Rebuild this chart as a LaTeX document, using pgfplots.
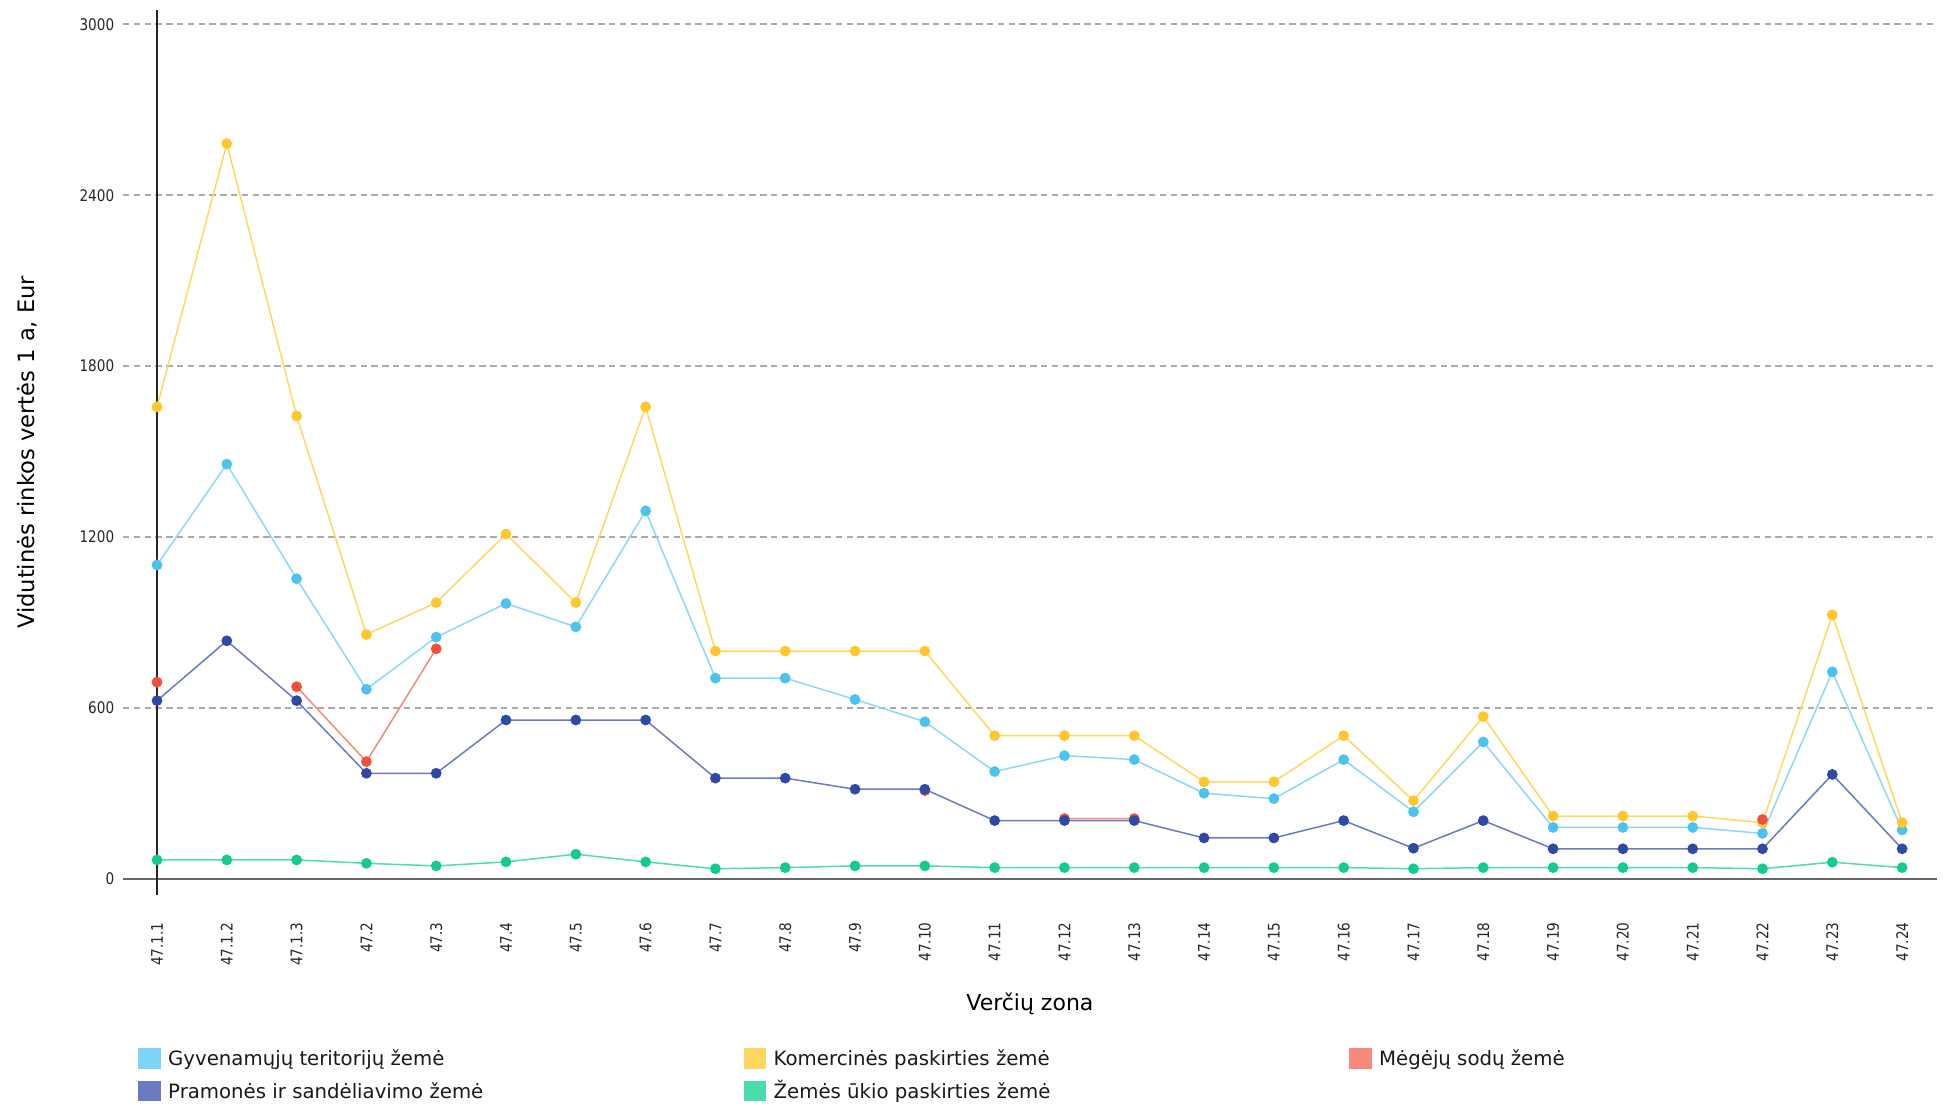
\documentclass[border=0pt]{standalone}
\usepackage{fontspec}
\setmainfont{DejaVu Sans}
\newfontfamily\tickfont[FakeStretch=0.85]{DejaVu Sans}
\usepackage{pgfplots}
\usepackage{pgfplotstable}
\pgfplotsset{compat=1.18}

\definecolor{cGyvL}{HTML}{8AD8F5}
\definecolor{cGyvM}{HTML}{4CC3EF}
\definecolor{cKomL}{HTML}{FFD75E}
\definecolor{cKomM}{HTML}{FFC72C}
\definecolor{cMegL}{HTML}{F48A7A}
\definecolor{cMegM}{HTML}{F2503B}
\definecolor{cPraL}{HTML}{6A7BC2}
\definecolor{cPraM}{HTML}{2E4AA6}
\definecolor{cZemL}{HTML}{50DCAE}
\definecolor{cZemM}{HTML}{12CC8C}
\definecolor{lGyv}{HTML}{7DD4F6}
\definecolor{lKom}{HTML}{FFD65E}
\definecolor{lMeg}{HTML}{F9897A}
\definecolor{lPra}{HTML}{6B7BC3}
\definecolor{lZem}{HTML}{4CDCAA}
\definecolor{gridc}{HTML}{ABABAB}

\pgfplotstableread{
x  gyv   kom   meg   pra  zem
0  1102  1657  691   626  67
1  1456  2581  nan   836  67
2  1054  1625  675   626  67
3  666   858   412   371  55
4  849   970   808   371  46
5  967   1211  nan   558  60
6  885   970   nan   558  87
7  1292  1657  nan   558  60
8  705   800   nan   354  36
9  705   800   nan   354  40
10 630   800   nan   315  46
11 552   800   310   315  46
12 377   503   nan   205  40
13 433   503   212   205  40
14 419   503   212   205  40
15 301   341   nan   144  40
16 282   341   nan   144  40
17 419   503   nan   205  40
18 236   275   nan   108  36
19 481   570   nan   205  40
20 181   221   nan   106  40
21 181   221   nan   106  40
22 181   221   nan   106  40
23 160   198   209   106  36
24 727   927   nan   367  59
25 172   198   nan   106  40
}\data

\begin{document}
\begin{tikzpicture}
\begin{axis}[
  scale only axis, width=890pt, height=434.5pt,
  xmin=0, xmax=25.5, ymin=0, ymax=3050,
  clip=false,
  axis line style={draw=none},
  tick style={draw=none},
  xtick={0,...,25},
  xticklabels={47.1.1,47.1.2,47.1.3,47.2,47.3,47.4,47.5,47.6,47.7,47.8,47.9,47.10,47.11,47.12,47.13,47.14,47.15,47.16,47.17,47.18,47.19,47.20,47.21,47.22,47.23,47.24},
  ytick={0,600,1200,1800,2400,3000},
  /pgf/number format/assume math mode=true,
  /pgf/number format/1000 sep={},
  xticklabel style={font=\tickfont\fontsize{8}{9}\selectfont, text=black!85, yshift=-21.5pt, rotate=90, anchor=east, inner sep=0pt},
  yticklabel style={font=\tickfont\fontsize{8}{9}\selectfont, text=black!85, xshift=-21.2pt, anchor=east, inner sep=0pt},
  xlabel={Verčių zona},
  xlabel style={font=\fontsize{11}{13}\selectfont, at={(axis description cs:0.4904,-0.1438)}, anchor=center},
  ylabel={Vidutinės rinkos vertės 1 a, Eur},
  ylabel style={font=\fontsize{11.3}{13}\selectfont, at={(axis description cs:-0.073,0.491)}, anchor=center},
  legend columns=3,
  legend cell align=left,
  legend style={at={(axis description cs:-0.0105,-0.1948)}, anchor=north west, draw=none, fill=none,
    inner sep=0pt, outer sep=0pt, row sep=5.6pt, font=\fontsize{9.86}{11}\selectfont,
    nodes={inner sep=0pt, anchor=base west, text=black!90},
    /tikz/every odd column/.append style={column sep=3.7pt},
    /tikz/every even column/.append style={column sep=7.8pt}},
  unbounded coords=jump,
]
\pgfplotsinvokeforeach{600,1200,1800,2400,3000}{
  \draw[gridc, line width=0.9pt, dash pattern=on 3.2pt off 2.2pt] (axis cs:-0.487,#1) -- (axis cs:25.5,#1);
}
\draw[black!60, line width=1pt] (axis cs:-0.487,0) -- (axis cs:25.5,0);
\draw[black!85, line width=0.8pt] (axis cs:0,3050) -- (axis cs:0,-56);

\addplot[color=cGyvL, line width=0.75pt, mark=*, mark size=2.3pt, mark options={fill=cGyvM, draw=cGyvM},
  legend image code/.code={\fill[lGyv] (0pt,-1.1pt) rectangle (10.5pt,8.3pt);}] table[x=x,y=gyv]{\data};
\addlegendentry{\makebox[280pt][l]{Gyvenamųjų teritorijų žemė}}
\addplot[color=cKomL, line width=0.75pt, mark=*, mark size=2.3pt, mark options={fill=cKomM, draw=cKomM},
  legend image code/.code={\fill[lKom] (0pt,-1.1pt) rectangle (10.5pt,8.3pt);}] table[x=x,y=kom]{\data};
\addlegendentry{\makebox[280pt][l]{Komercinės paskirties žemė}}
\addplot[color=cMegL, line width=0.75pt, mark=*, mark size=2.3pt, mark options={fill=cMegM, draw=cMegM},
  legend image code/.code={\fill[lMeg] (0pt,-1.1pt) rectangle (10.5pt,8.3pt);}] table[x=x,y=meg]{\data};
\addlegendentry{\makebox[280pt][l]{Mėgėjų sodų žemė}}
\addplot[color=cPraL, line width=0.75pt, mark=*, mark size=2.3pt, mark options={fill=cPraM, draw=cPraM},
  legend image code/.code={\fill[lPra] (0pt,-1.1pt) rectangle (10.5pt,8.3pt);}] table[x=x,y=pra]{\data};
\addlegendentry{\makebox[280pt][l]{Pramonės ir sandėliavimo žemė}}
\addplot[color=cZemL, line width=0.75pt, mark=*, mark size=2.3pt, mark options={fill=cZemM, draw=cZemM},
  legend image code/.code={\fill[lZem] (0pt,-1.1pt) rectangle (10.5pt,8.3pt);}] table[x=x,y=zem]{\data};
\addlegendentry{\makebox[280pt][l]{Žemės ūkio paskirties žemė}}
\end{axis}
\pgfresetboundingbox
\useasboundingbox (-78.5pt,-113.5pt) rectangle (893pt,439.5pt);
\end{tikzpicture}
\end{document}
